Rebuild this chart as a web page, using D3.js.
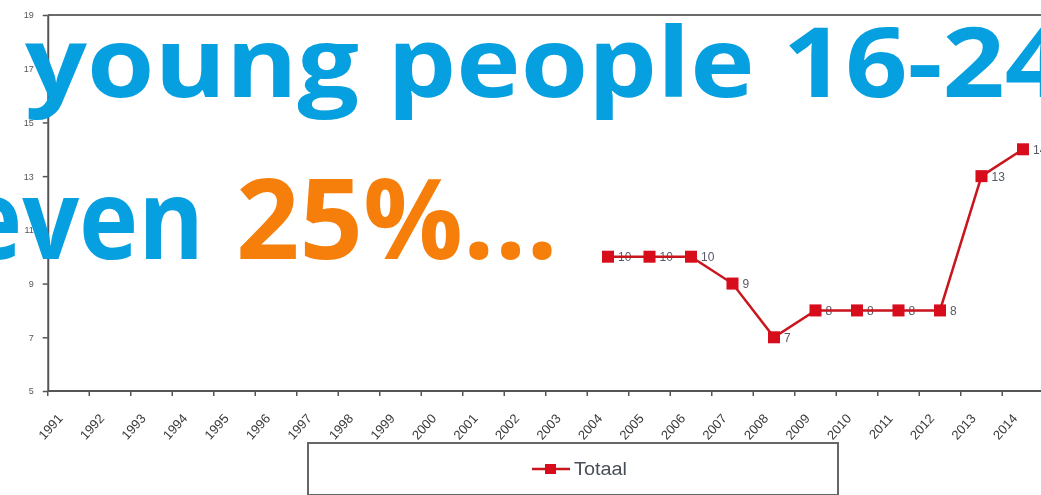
<!DOCTYPE html>
<html>
<head>
<meta charset="utf-8">
<script src="https://cdn.jsdelivr.net/npm/d3@7"></script>
<style>
  html, body { margin: 0; padding: 0; background: #fff; overflow: hidden; }
  svg { display: block; }
</style>
</head>
<body>
<svg id="chart" width="1041" height="495"></svg>
<script>
// Youth unemployment share, total (Totaal), per year
const years = ["1991","1992","1993","1994","1995","1996","1997","1998","1999","2000",
               "2001","2002","2003","2004","2005","2006","2007","2008","2009","2010",
               "2011","2012","2013","2014"];
const totaal = [null,null,null,null,null,null,null,null,null,null,
                null,null,null,10,10,10,9,7,8,8,8,8,13,14];
const yTicks = [5, 7, 9, 11, 13, 15, 17, 19];
const seriesName = "Totaal";
const headline1 = "young people 16-24";
const headline2a = "even";
const headline2b = "25%...";

const svg = d3.select("#chart");
const W = 1041, H = 495;

const plot = { left: 47.75, right: 1043.75, top: 15, bottom: 391 };

const x = d3.scaleBand().domain(years).range([plot.left, plot.right]).padding(0);
const y = d3.scaleLinear().domain([5, 19]).range([plot.bottom, plot.top]);
const cx = d => x(d) + x.bandwidth() / 2;

const defs = svg.append("defs");
defs.append("filter").attr("id", "soft")
  .attr("x", "-5%").attr("y", "-5%").attr("width", "110%").attr("height", "110%")
  .append("feGaussianBlur").attr("stdDeviation", 0.7);

const chart = svg.append("g").attr("filter", "url(#soft)");

// plot frame (top edge)
chart.append("line")
  .attr("x1", plot.left).attr("x2", W + 5)
  .attr("y1", plot.top).attr("y2", plot.top)
  .attr("stroke", "#6a6a6a").attr("stroke-width", 2);

// y axis
const yAxis = chart.append("g")
  .attr("transform", `translate(${plot.left},0)`)
  .call(d3.axisLeft(y).tickValues(yTicks).tickSize(5).tickSizeOuter(0).tickPadding(9));
yAxis.select(".domain").attr("stroke", "#555").attr("stroke-width", 2);
yAxis.selectAll(".tick line").attr("stroke", "#555").attr("stroke-width", 1.5);
yAxis.selectAll(".tick text")
  .attr("fill", "#555").style("font-family", "Liberation Sans, Arial, sans-serif")
  .style("font-size", "9px");

// x axis baseline
chart.append("line")
  .attr("x1", plot.left).attr("x2", W + 5)
  .attr("y1", plot.bottom).attr("y2", plot.bottom)
  .attr("stroke", "#555").attr("stroke-width", 2);

// x tick marks sit on category boundaries
chart.append("g").selectAll("line")
  .data(years)
  .join("line")
  .attr("x1", d => x(d)).attr("x2", d => x(d))
  .attr("y1", plot.bottom).attr("y2", plot.bottom + 5)
  .attr("stroke", "#555").attr("stroke-width", 1.5);

// rotated year labels
chart.append("g").selectAll("text")
  .data(years)
  .join("text")
  .attr("transform", d => `translate(${cx(d) - 5},${plot.bottom + 28}) rotate(-48)`)
  .attr("text-anchor", "end")
  .attr("fill", "#3a3a3a")
  .style("font-family", "Liberation Sans, Arial, sans-serif")
  .style("font-size", "13px")
  .text(d => d);

// series
const pts = years.map((d, i) => ({ year: d, v: totaal[i] })).filter(p => p.v != null);

// value labels
chart.append("g").selectAll("text")
  .data(pts)
  .join("text")
  .attr("x", p => cx(p.year) + 10)
  .attr("y", p => y(p.v) + 4.5)
  .attr("fill", "#555a66")
  .style("font-family", "Liberation Sans, Arial, sans-serif")
  .style("font-size", "12px")
  .text(p => p.v);

const line = d3.line().x(p => cx(p.year)).y(p => y(p.v));
chart.append("path")
  .datum(pts)
  .attr("d", line)
  .attr("fill", "none")
  .attr("stroke", "#c8141e")
  .attr("stroke-width", 2.5);

const ms = 12;
chart.append("g").selectAll("rect")
  .data(pts)
  .join("rect")
  .attr("x", p => cx(p.year) - ms / 2)
  .attr("y", p => y(p.v) - ms / 2)
  .attr("width", ms).attr("height", ms)
  .attr("fill", "#d80a1c");

// legend
const leg = chart.append("g");
leg.append("rect")
  .attr("x", 308).attr("y", 443).attr("width", 530).attr("height", 52)
  .attr("fill", "#fff").attr("stroke", "#666").attr("stroke-width", 2);
leg.append("line")
  .attr("x1", 532).attr("x2", 570).attr("y1", 469).attr("y2", 469)
  .attr("stroke", "#c8141e").attr("stroke-width", 2.5);
leg.append("rect")
  .attr("x", 545).attr("y", 464).attr("width", 11).attr("height", 10)
  .attr("fill", "#d80a1c");
leg.append("text")
  .attr("x", 574).attr("y", 475)
  .attr("fill", "#4a4f58")
  .style("font-family", "Liberation Sans, Arial, sans-serif")
  .style("font-size", "18px")
  .attr("textLength", 53).attr("lengthAdjust", "spacingAndGlyphs")
  .text(seriesName);

// headline overlay
const head = svg.append("g")
  .style("font-family", "'Open Sans', sans-serif")
  .style("font-weight", 700);

head.append("text")
  .attr("x", 25).attr("y", 97)
  .attr("fill", "#069fdf")
  .style("font-size", "96px")
  .attr("textLength", 1042).attr("lengthAdjust", "spacingAndGlyphs")
  .text(headline1);

head.append("text")
  .attr("x", -37).attr("y", 259)
  .attr("fill", "#069fdf")
  .style("font-size", "112px")
  .attr("textLength", 241).attr("lengthAdjust", "spacingAndGlyphs")
  .text(headline2a);

head.append("text")
  .attr("x", 236).attr("y", 259)
  .attr("fill", "#f57f0a")
  .style("font-size", "112px")
  .attr("textLength", 322).attr("lengthAdjust", "spacingAndGlyphs")
  .text(headline2b);
</script>
</body>
</html>
